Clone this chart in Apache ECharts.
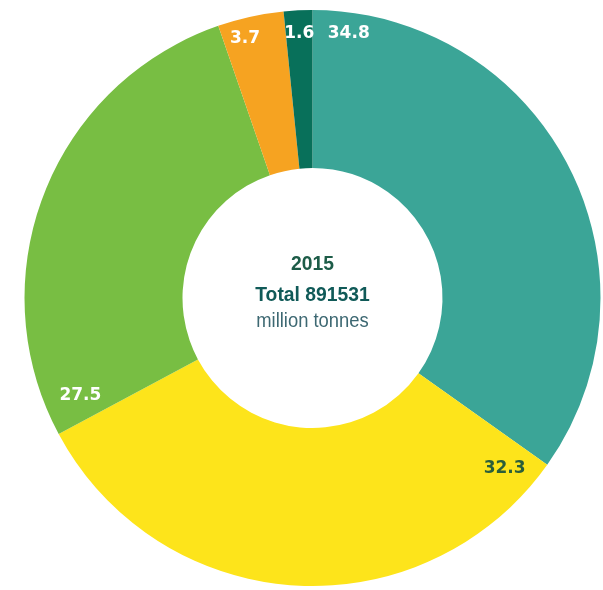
<!DOCTYPE html>
<html>
<head>
<meta charset="utf-8">
<script src="https://cdn.jsdelivr.net/npm/echarts@6/dist/echarts.min.js"></script>
<style>
  html, body { margin: 0; padding: 0; background: #fff; }
  #chart { width: 603px; height: 590px; }
</style>
</head>
<body>
<div id="chart"></div>
<script>
// slices, clockwise from 12 o'clock
var shares = [34.8, 32.3, 27.5, 3.7, 1.6];
var colors = ["#3ba597", "#fde41b", "#78be43", "#f6a321", "#08705a"];
var labelColors = ["#ffffff", "#2b5e3a", "#ffffff", "#ffffff", "#ffffff"];
var centerLines = ["2015", "Total 891531", "million tonnes"];

// label placement: degrees past each slice's start edge, and distance from centre
var labelOffsetDeg = [7.8, 6.2, 5.3, 4.5, 2.9];
var labelRadius = [267, 257, 252, 268, 265];

var cx = 312.5, cy = 298, rIn = 130, rOut = 288;
var total = shares.reduce(function (a, b) { return a + b; }, 0);

var myChart = echarts.init(document.getElementById("chart"));

function centerText(str, y, font, color) {
  return {
    type: "text",
    x: cx, y: y,
    scaleX: 0.92,
    style: {
      text: str,
      font: font,
      fill: color,
      textAlign: "center", textVerticalAlign: "middle",
      align: "center", verticalAlign: "middle"
    }
  };
}

var option = {
  animation: false,
  backgroundColor: "#ffffff",
  series: [
    {
      type: "pie",
      center: [cx, cy],
      radius: [rIn, rOut],
      startAngle: 90,
      clockwise: true,
      data: shares.map(function (v, i) {
        return {
          value: v,
          itemStyle: { color: colors[i] },
          label: { color: labelColors[i] }
        };
      }),
      label: {
        show: true,
        position: "inside",
        formatter: "{c}",
        fontFamily: "DejaVu Sans, sans-serif",
        fontWeight: "bold",
        fontSize: 17
      },
      labelLine: { show: false },
      labelLayout: function (params) {
        var i = params.dataIndex;
        var before = 0;
        for (var k = 0; k < i; k++) before += shares[k];
        var a = (before / total * 360 + labelOffsetDeg[i]) * Math.PI / 180;
        return {
          x: cx + labelRadius[i] * Math.sin(a),
          y: cy - labelRadius[i] * Math.cos(a),
          align: "center",
          verticalAlign: "middle"
        };
      }
    }
  ],
  graphic: [
    centerText(centerLines[0], 264, "bold 21px 'Liberation Sans', sans-serif", "#1d5c48"),
    centerText(centerLines[1], 295, "bold 21px 'Liberation Sans', sans-serif", "#105a58"),
    centerText(centerLines[2], 321, "20px 'Liberation Sans', sans-serif", "#3d6872")
  ]
};

myChart.setOption(option);
</script>
</body>
</html>
